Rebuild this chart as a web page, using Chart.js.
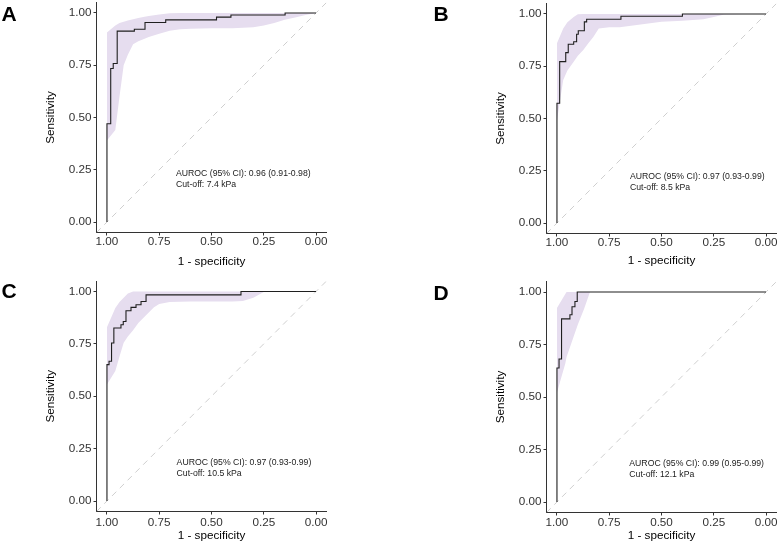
<!DOCTYPE html>
<html lang="en">
<head>
  <meta charset="UTF-8">
  <title>ROC curves, panels A-D</title>
  <script src="https://cdn.jsdelivr.net/npm/chart.js"></script>
  <style>
    body { margin: 0; background: #fff; font-family: "Liberation Sans", Arial, sans-serif; }
    #page { position: relative; width: 780px; height: 545px; overflow: hidden; }
    .panel { position: absolute; }
    .panel canvas { display: block; }
    .tag { position: absolute; font-weight: bold; font-size: 21px; line-height: 1; color: #000; }
  </style>
</head>
<body>
<div id="page">
  <div class="panel" style="left:0;top:0"><canvas id="rocA" width="390" height="270"></canvas></div>
  <div class="panel" style="left:390px;top:0"><canvas id="rocB" width="390" height="270"></canvas></div>
  <div class="panel" style="left:0;top:270px"><canvas id="rocC" width="390" height="275"></canvas></div>
  <div class="panel" style="left:390px;top:270px"><canvas id="rocD" width="390" height="275"></canvas></div>
  <div class="tag" style="left:1.5px;top:3px">A</div>
  <div class="tag" style="left:433.5px;top:3px">B</div>
  <div class="tag" style="left:1.5px;top:280px">C</div>
  <div class="tag" style="left:433.5px;top:282px">D</div>
</div>

<script>
  // axis ticks (both axes), x is specificity shown reversed
  const tickValues = [0, 0.25, 0.5, 0.75, 1];
  const axisMin = -0.05, axisMax = 1.05;

  // Panel A - ROC steps (specificity, sensitivity) and 95% CI band
  const specA = [1, 1, 0.982, 0.97, 0.951, 0.869, 0.818, 0.719, 0.476, 0.407, 0.148, 0];
  const sensA = [0, 0.47, 0.734, 0.758, 0.913, 0.922, 0.954, 0.967, 0.98, 0.99, 1, 1];
  const bandSpecA = [1, 0.96, 0.94, 0.92, 0.9, 0.875, 0.85, 0.82, 0.8, 0.75, 0.7, 0.65, 0.6, 0.5, 0.4, 0.3, 0.25, 0.2, 0.15, 0.1, 0.05, 0];
  const bandHighA = [0.906, 0.94, 0.952, 0.958, 0.964, 0.97, 0.976, 0.982, 0.986, 0.993, 0.998, 1, 1, 1, 1, 1, 1, 1, 1, 1, 1, 1];
  const bandLowA = [0.39, 0.44, 0.6, 0.75, 0.8, 0.85, 0.865, 0.877, 0.885, 0.9, 0.915, 0.922, 0.925, 0.927, 0.927, 0.932, 0.94, 0.952, 0.967, 0.978, 0.99, 1];
  const noteA = ['AUROC (95% CI): 0.96 (0.91-0.98)', 'Cut-off: 7.4 kPa'];

  // Panel B
  const specB = [1, 1, 0.987, 0.958, 0.946, 0.92, 0.906, 0.898, 0.869, 0.858, 0.694, 0.40, 0];
  const sensB = [0, 0.573, 0.772, 0.815, 0.855, 0.867, 0.903, 0.92, 0.962, 0.975, 0.989, 1, 1];
  const bandSpecB = [1, 0.97, 0.95, 0.92, 0.9, 0.874, 0.85, 0.826, 0.8, 0.75, 0.7, 0.6, 0.5, 0.4, 0.3, 0.25, 0.2, 0.1, 0];
  const bandHighB = [0.86, 0.93, 0.96, 0.985, 0.998, 1, 1, 1, 1, 1, 1, 1, 1, 1, 1, 1, 1, 1, 1];
  const bandLowB = [0.49, 0.684, 0.73, 0.772, 0.8, 0.828, 0.86, 0.89, 0.93, 0.936, 0.937, 0.95, 0.963, 0.968, 0.975, 0.985, 0.997, 1, 1];
  const noteB = ['AUROC (95% CI): 0.97 (0.93-0.99)', 'Cut-off: 8.5 kPa'];

  // Panel C
  const specC = [1, 1, 0.99, 0.978, 0.967, 0.933, 0.922, 0.909, 0.885, 0.861, 0.837, 0.813, 0.359, 0];
  const sensC = [0, 0.651, 0.667, 0.754, 0.826, 0.841, 0.857, 0.908, 0.924, 0.937, 0.952, 0.984, 1, 1];
  const bandSpecC = [1, 0.96, 0.94, 0.92, 0.9, 0.875, 0.85, 0.825, 0.8, 0.775, 0.75, 0.7, 0.6, 0.5, 0.4, 0.35, 0.3, 0.25, 0.2, 0.1, 0];
  const bandHighC = [0.829, 0.921, 0.95, 0.97, 0.99, 1, 1, 1, 1, 1, 1, 1, 1, 1, 1, 1, 1, 1, 1, 1, 1];
  const bandLowC = [0.556, 0.62, 0.69, 0.755, 0.785, 0.815, 0.85, 0.875, 0.9, 0.925, 0.94, 0.95, 0.952, 0.952, 0.952, 0.955, 0.97, 0.997, 1, 1, 1];
  const noteC = ['AUROC (95% CI): 0.97 (0.93-0.99)', 'Cut-off: 10.5 kPa'];

  // Panel D
  const specD = [1, 1, 0.99, 0.978, 0.938, 0.928, 0.914, 0.903, 0];
  const sensD = [0, 0.638, 0.681, 0.872, 0.892, 0.93, 0.955, 1, 1];
  const bandSpecD = [1, 0.98, 0.96, 0.954, 0.93, 0.9, 0.87, 0.842, 0.8, 0];
  const bandHighD = [0.924, 0.957, 0.99, 1, 1, 1, 1, 1, 1, 1];
  const bandLowD = [0.52, 0.59, 0.66, 0.69, 0.76, 0.845, 0.92, 1, 1, 1];
  const noteD = ['AUROC (95% CI): 0.99 (0.95-0.99)', 'Cut-off: 12.1 kPa'];

  const FONT = '"Liberation Sans", Arial, sans-serif';
  const BAND = 'rgb(230, 221, 239)';

  const pts = (xs, ys) => xs.map((x, i) => ({ x: x, y: ys[i] }));

  // text block drawn in data coordinates
  const notePlugin = {
    id: 'note',
    afterDatasetsDraw(chart, args, opts) {
      const { ctx, scales: { x, y } } = chart;
      ctx.save();
      ctx.font = '8.7px ' + FONT;
      ctx.fillStyle = '#222';
      ctx.textAlign = 'left';
      ctx.textBaseline = 'alphabetic';
      const px = x.getPixelForValue(opts.x);
      const py = y.getPixelForValue(opts.y);
      opts.lines.forEach((t, i) => ctx.fillText(t, px, py + i * 10.7));
      ctx.restore();
    }
  };

  function makeRoc(id, spec, sens, bSpec, bLow, bHigh, lines, at, box) {
    const canvas = document.getElementById(id);
    const W = canvas.width, H = canvas.height;
    const axisTicks = { display: true, drawOnChartArea: false, drawTicks: true, tickLength: 3, color: '#333', lineWidth: 1 };
    const axisBorder = { display: true, color: '#333', width: 1 };
    return new Chart(canvas, {
      type: 'scatter',
      data: {
        datasets: [
          { data: pts(spec, sens), showLine: true, stepped: 'before', borderColor: '#1f1f1f', borderWidth: 1.1, pointRadius: 0, fill: false },
          { data: [{ x: axisMax, y: axisMin }, { x: axisMin, y: axisMax }], showLine: true, borderColor: '#cfcfcf', borderWidth: 1, borderDash: [6, 5], pointRadius: 0, fill: false },
          { data: pts(bSpec, bHigh), showLine: true, borderWidth: 0, borderColor: 'rgba(0,0,0,0)', backgroundColor: BAND, pointRadius: 0, fill: '+1' },
          { data: pts(bSpec, bLow), showLine: true, borderWidth: 0, borderColor: 'rgba(0,0,0,0)', pointRadius: 0, fill: false }
        ]
      },
      options: {
        responsive: false,
        animation: false,
        events: [],
        layout: { padding: { left: 0, right: W - box.right, top: box.top, bottom: 0 } },
        plugins: {
          legend: { display: false },
          tooltip: { enabled: false },
          note: { lines: lines, x: at[0], y: at[1] }
        },
        scales: {
          x: {
            type: 'linear', reverse: true, min: axisMin, max: axisMax,
            afterBuildTicks: s => { s.ticks = tickValues.map(v => ({ value: v })); },
            afterFit: s => { s.height = H - box.bottom; s.paddingLeft = 0; s.paddingRight = 0; },
            ticks: { callback: v => v.toFixed(2), color: '#333', padding: box.xPad, maxRotation: 0, font: { family: FONT, size: 11.7, lineHeight: 1 } },
            grid: axisTicks,
            border: axisBorder,
            title: { display: true, text: '1 - specificity', color: '#000', padding: { top: 0, bottom: box.xTitle }, font: { family: FONT, size: 11.7, lineHeight: 1 } }
          },
          y: {
            type: 'linear', min: axisMin, max: axisMax,
            afterBuildTicks: s => { s.ticks = tickValues.map(v => ({ value: v })); },
            afterFit: s => { s.width = box.left; s.paddingTop = 0; s.paddingBottom = 0; },
            ticks: { callback: v => v.toFixed(2), color: '#333', padding: 2, font: { family: FONT, size: 11.7, lineHeight: 1 } },
            grid: axisTicks,
            border: axisBorder,
            title: { display: true, text: 'Sensitivity', color: '#000', padding: { top: box.yTitle, bottom: 0 }, font: { family: FONT, size: 11.7, lineHeight: 1 } }
          }
        }
      },
      plugins: [notePlugin]
    });
  }

  makeRoc('rocA', specA, sensA, bandSpecA, bandLowA, bandHighA, noteA, [0.670, 0.218],
    { left: 96.5, right: 326.5, top: 2.5, bottom: 232.5, xPad: 0, xTitle: 2.6, yTitle: 45 });
  makeRoc('rocB', specB, sensB, bandSpecB, bandLowB, bandHighB, noteB, [0.651, 0.209],
    { left: 156.5, right: 386.5, top: 3.5, bottom: 233.5, xPad: 0, xTitle: 3.6, yTitle: 105 });
  makeRoc('rocC', specC, sensC, bandSpecC, bandLowC, bandHighC, noteC, [0.667, 0.17],
    { left: 96.5, right: 326.5, top: 11, bottom: 241.5, xPad: 2.2, xTitle: 2.9, yTitle: 45 });
  makeRoc('rocD', specD, sensD, bandSpecD, bandLowD, bandHighD, noteD, [0.654, 0.17],
    { left: 156.5, right: 386.5, top: 11.5, bottom: 242.5, xPad: 1.2, xTitle: 2.9, yTitle: 105 });
</script>
</body>
</html>
